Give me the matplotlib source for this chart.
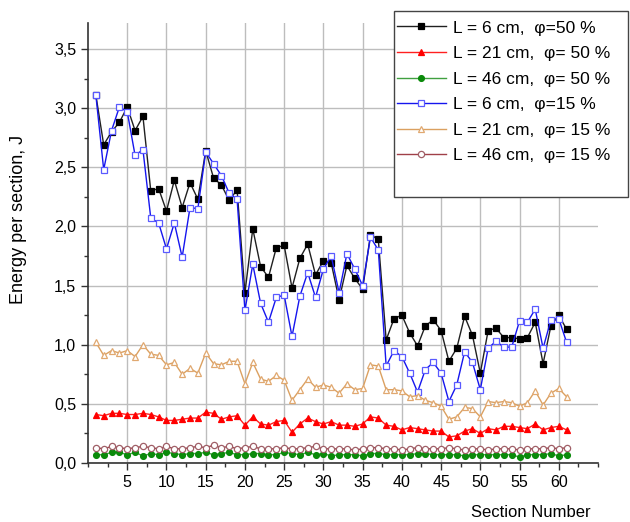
import matplotlib
matplotlib.use("Agg")
import matplotlib.pyplot as plt
from matplotlib.patches import Rectangle
from matplotlib.ticker import MultipleLocator, FixedLocator, FuncFormatter
import numpy as np

plt.rcParams['font.family'] = ['Liberation Sans', 'DejaVu Sans']

sections = np.arange(1, 62)

# energy per section, J
e_6_50 = [3.11, 2.69, 2.80, 2.88, 3.01, 2.81, 2.93, 2.30, 2.32, 2.13,
          2.39, 2.16, 2.37, 2.23, 2.64, 2.41, 2.35, 2.22, 2.31, 1.44,
          1.98, 1.66, 1.57, 1.82, 1.84, 1.48, 1.73, 1.85, 1.59, 1.71,
          1.69, 1.38, 1.67, 1.56, 1.47, 1.93, 1.89, 1.04, 1.22, 1.25,
          1.10, 0.99, 1.16, 1.21, 1.12, 0.86, 0.97, 1.24, 1.08, 0.76,
          1.12, 1.14, 1.06, 1.06, 1.05, 1.06, 1.19, 0.84, 1.16, 1.25, 1.13]
e_21_50 = [0.41, 0.40, 0.42, 0.42, 0.41, 0.41, 0.42, 0.41, 0.39, 0.36,
           0.36, 0.37, 0.38, 0.38, 0.43, 0.42, 0.37, 0.39, 0.40, 0.32,
           0.39, 0.33, 0.32, 0.35, 0.36, 0.26, 0.33, 0.38, 0.35, 0.33,
           0.35, 0.32, 0.32, 0.31, 0.33, 0.39, 0.38, 0.32, 0.31, 0.28,
           0.30, 0.29, 0.28, 0.27, 0.27, 0.22, 0.23, 0.27, 0.29, 0.25,
           0.29, 0.28, 0.31, 0.31, 0.30, 0.29, 0.33, 0.28, 0.30, 0.31, 0.28]
e_46_50 = [0.07, 0.07, 0.09, 0.09, 0.07, 0.09, 0.06, 0.08, 0.07, 0.09,
           0.08, 0.07, 0.08, 0.08, 0.09, 0.07, 0.08, 0.09, 0.07, 0.07,
           0.08, 0.08, 0.07, 0.07, 0.09, 0.08, 0.07, 0.09, 0.07, 0.08,
           0.06, 0.07, 0.07, 0.07, 0.06, 0.08, 0.08, 0.07, 0.07, 0.07,
           0.07, 0.08, 0.08, 0.07, 0.07, 0.07, 0.07, 0.06, 0.07, 0.07,
           0.07, 0.07, 0.07, 0.07, 0.05, 0.07, 0.07, 0.07, 0.08, 0.06, 0.07]
e_6_15 = [3.11, 2.48, 2.81, 3.01, 2.97, 2.60, 2.65, 2.07, 2.03, 1.81,
          2.03, 1.74, 2.16, 2.15, 2.63, 2.53, 2.43, 2.28, 2.23, 1.29,
          1.68, 1.35, 1.19, 1.40, 1.42, 1.07, 1.41, 1.61, 1.40, 1.64,
          1.75, 1.44, 1.77, 1.64, 1.50, 1.91, 1.80, 0.82, 0.95, 0.90,
          0.76, 0.60, 0.79, 0.85, 0.76, 0.52, 0.66, 0.94, 0.85, 0.62,
          0.97, 1.03, 0.98, 0.98, 1.20, 1.19, 1.30, 0.97, 1.21, 1.22, 1.02]
e_21_15 = [1.02, 0.91, 0.95, 0.93, 0.95, 0.90, 1.00, 0.92, 0.91, 0.83,
           0.85, 0.75, 0.80, 0.76, 0.93, 0.84, 0.83, 0.86, 0.86, 0.67,
           0.85, 0.71, 0.69, 0.74, 0.70, 0.53, 0.62, 0.71, 0.64, 0.66,
           0.64, 0.59, 0.67, 0.62, 0.63, 0.83, 0.82, 0.62, 0.62, 0.61,
           0.56, 0.57, 0.53, 0.51, 0.48, 0.37, 0.39, 0.47, 0.46, 0.39,
           0.52, 0.51, 0.52, 0.51, 0.48, 0.51, 0.61, 0.49, 0.59, 0.63, 0.56]
e_46_15 = [0.13, 0.12, 0.14, 0.13, 0.12, 0.13, 0.14, 0.13, 0.12, 0.14,
           0.12, 0.12, 0.13, 0.14, 0.13, 0.15, 0.13, 0.14, 0.12, 0.13,
           0.14, 0.12, 0.12, 0.12, 0.13, 0.12, 0.12, 0.13, 0.14, 0.12,
           0.12, 0.12, 0.12, 0.11, 0.12, 0.13, 0.13, 0.12, 0.12, 0.11,
           0.12, 0.13, 0.12, 0.12, 0.12, 0.13, 0.12, 0.11, 0.12, 0.12,
           0.11, 0.12, 0.12, 0.12, 0.11, 0.12, 0.12, 0.12, 0.13, 0.12, 0.13]

labels = ['L = 6 cm,  \u03c6=50 %', 'L = 21 cm,  \u03c6= 50 %', 'L = 46 cm,  \u03c6= 50 %',
          'L = 6 cm,  \u03c6=15 %', 'L = 21 cm,  \u03c6= 15 %', 'L = 46 cm,  \u03c6= 15 %']

# (data, line colour, marker, marker face, marker edge, marker size)
series = [
    (e_6_50, '#202020', 's', '#000000', '#000000', 4.2),
    (e_21_50, '#ff2020', '^', '#ff0000', '#ff0000', 5.0),
    (e_46_50, '#40a040', 'o', '#0a8a0a', '#0a8a0a', 4.2),
    (e_6_15, '#1515ee', 's', 'white', '#5a5aff', 4.5),
    (e_21_15, '#dba060', '^', 'white', '#e0a870', 5.0),
    (e_46_15, '#a04048', 'o', 'white', '#a06068', 4.5),
]

fig = plt.figure(figsize=(6.3, 5.22), dpi=100)
ax = fig.add_axes([0.1397, 0.113, 0.8095, 0.843])

handles = []
for (vals, lc, mk, mfc, mec, ms), lab in zip(series, labels):
    h, = ax.plot(sections, vals, color=lc, lw=1.0, marker=mk, markersize=ms,
                 markerfacecolor=mfc, markeredgecolor=mec, markeredgewidth=0.9,
                 label=lab, zorder=3)
    handles.append(h)

ax.set_xlim(0, 65)
ax.set_ylim(0, 3.72)

ax.xaxis.set_major_locator(FixedLocator(np.arange(5, 61, 5)))
ax.xaxis.set_minor_locator(FixedLocator([x for x in np.arange(0, 65.1, 2.5) if x % 5 != 0 or x in (0, 65)]))
ax.yaxis.set_major_locator(MultipleLocator(0.5))
ax.yaxis.set_minor_locator(MultipleLocator(0.25))
ax.yaxis.set_major_formatter(FuncFormatter(lambda v, p: f"{v:.1f}".replace('.', ',')))

ax.tick_params(which='major', direction='out', length=5, width=1, labelsize=11.5, color='#333333')
ax.tick_params(which='minor', direction='out', length=3, width=1, color='#333333')

ax.grid(True, which='major', color='#bdbdbd', lw=1.0, zorder=0)
ax.set_axisbelow(True)
for side in ('top', 'right'):
    ax.spines[side].set_visible(False)
for side in ('left', 'bottom'):
    ax.spines[side].set_color('#333333')
    ax.spines[side].set_linewidth(1.2)

fig.text(0.937, 0.019, 'Section Number', ha='right', va='center', fontsize=12)
fig.text(0.029, 0.58, 'Energy per section, J', rotation=90, ha='center', va='center', fontsize=13)

# legend box (taller than the entries, as in the original)
fig.patches.append(Rectangle((0.625, 0.623), 0.372, 0.3565, transform=fig.transFigure,
                             facecolor='white', edgecolor='#444444', lw=1.0, zorder=5))
leg = fig.legend(handles=handles, loc='upper left', bbox_to_anchor=(0.630, 0.961),
                 frameon=False, fontsize=12.5, handlelength=2.8, handletextpad=0.45,
                 labelspacing=0.6, borderpad=0, borderaxespad=0)
leg.set_zorder(6)

fig.savefig('out.png', dpi=100)
